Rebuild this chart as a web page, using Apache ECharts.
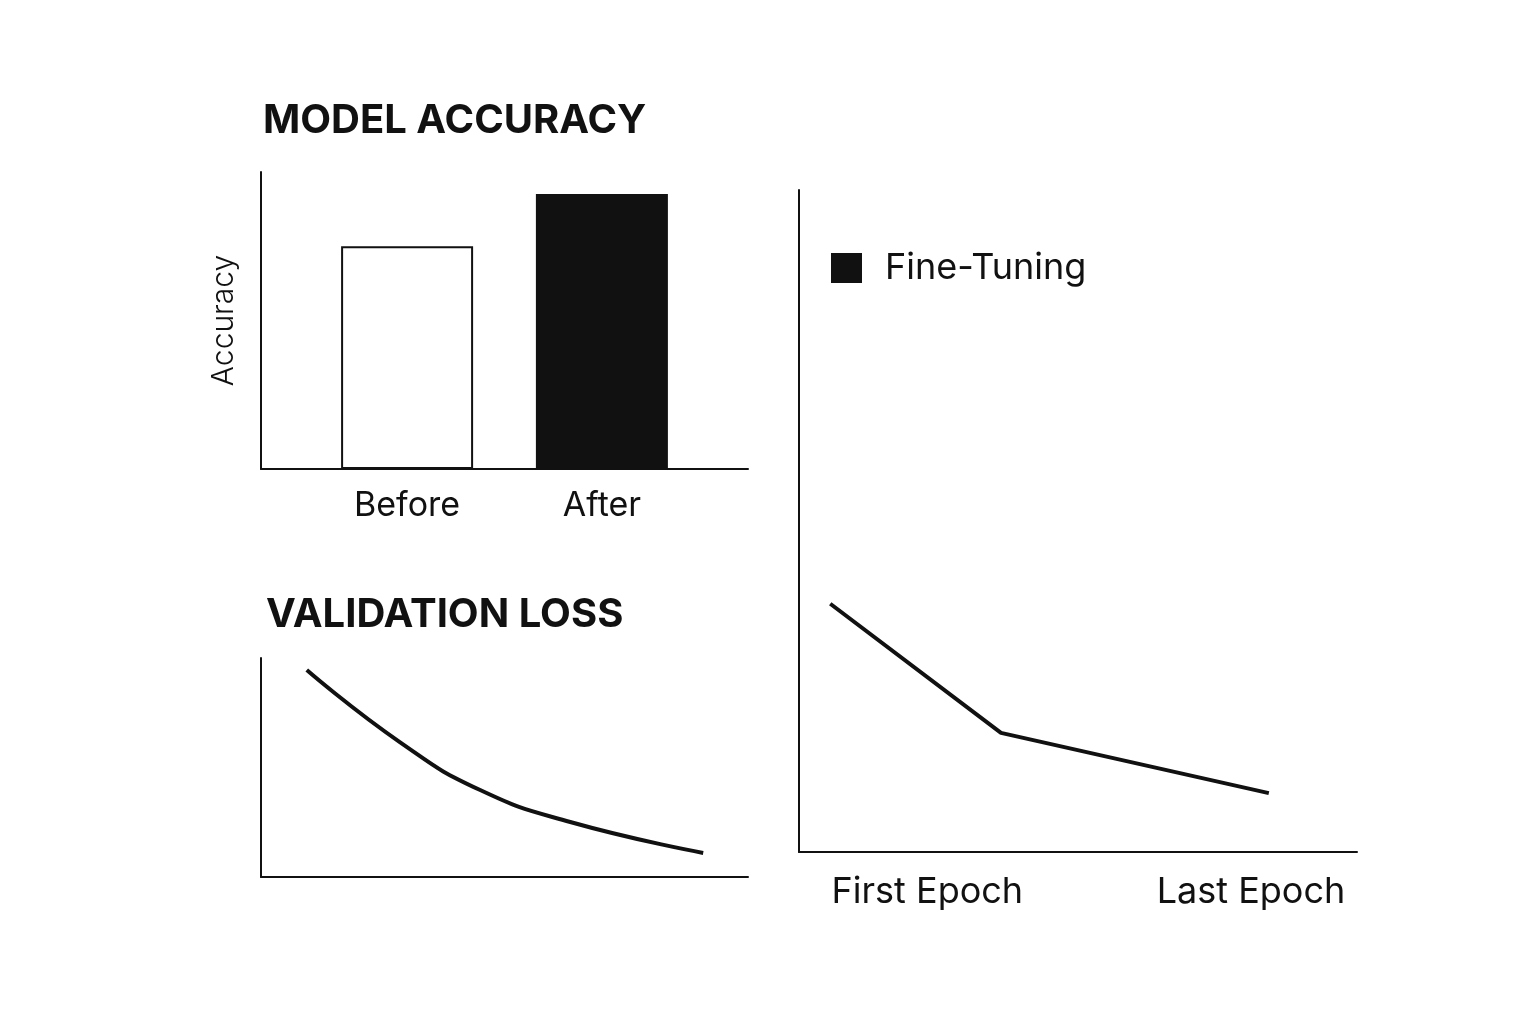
<!DOCTYPE html>
<html><head><meta charset="utf-8">
<script src="https://cdn.jsdelivr.net/npm/echarts@6/dist/echarts.min.js"></script>
<style>html,body{margin:0;background:#fff}#c{width:1536px;height:1024px}</style>
</head><body><div id="c"></div>
<script>
const barLabels = ['Before','After'];
const barPos = [3, 7];
const accuracy = [75, 92.6];
const lossX = [0.94, 2.85, 4.5, 6.35, 9.08];
const lossY = [9.45, 6.16, 3.97, 2.51, 1.10];
const ftX = [0.56, 3.62, 8.42];
const ftY = [3.75, 1.80, 0.89];
const epochLabels = ['First Epoch','Last Epoch'];
const epochPos = [2.3, 8.1];

const F = 'Inter, "Noto Sans", sans-serif';
const axisLine = {show:true, lineStyle:{color:'#111', width:2}};
const chart = echarts.init(document.getElementById('c'));
chart.setOption({
  animation:false,
  textStyle:{fontFamily:F},
  title:[
    {text:'MODEL ACCURACY', left:258, top:96, textStyle:{fontSize:40, fontWeight:'bold', color:'#111', fontFamily:F}},
    {text:'VALIDATION LOSS', left:261, top:590, textStyle:{fontSize:40, fontWeight:'bold', color:'#111', fontFamily:F}}
  ],
  legend:{data:[{name:'Fine-Tuning', icon:'rect', itemStyle:{color:'#111'}}], left:826, top:245, itemWidth:31, itemHeight:30, itemGap:30,
    textStyle:{fontSize:36, color:'#111', fontFamily:F, padding:[0,0,0,18]}},
  grid:[
    {left:261, top:172, width:487, height:297},
    {left:261, top:658, width:487, height:219},
    {left:799, top:190, width:558, height:662}
  ],
  xAxis:[
    {gridIndex:0, type:'value', min:0, max:10, interval:1, axisLine, axisTick:{show:false}, splitLine:{show:false},
     axisLabel:{fontSize:34, color:'#111', margin:20, formatter:v=>{const i=barPos.indexOf(Math.round(v));return i>=0&&Math.abs(v-barPos[i])<1e-6?barLabels[i]:'';}}},
    {gridIndex:1, type:'value', min:0, max:10, axisLine, axisTick:{show:false}, splitLine:{show:false}, axisLabel:{show:false}},
    {gridIndex:2, type:'value', min:0, max:10, interval:0.1, axisLine, axisTick:{show:false}, splitLine:{show:false},
     axisLabel:{fontSize:36, color:'#111', margin:22, formatter:v=>{const r=Math.round(v*10);for(let i=0;i<epochPos.length;i++){if(Math.round(epochPos[i]*10)===r)return epochLabels[i];}return '';}}}
  ],
  yAxis:[
    {gridIndex:0, type:'value', min:0, max:100, axisLine, axisTick:{show:false}, splitLine:{show:false}, axisLabel:{show:false},
     name:'Accuracy', nameLocation:'middle', nameGap:22, nameTextStyle:{fontSize:30, color:'#111', fontWeight:300, fontFamily:F}},
    {gridIndex:1, type:'value', min:0, max:10, axisLine, axisTick:{show:false}, splitLine:{show:false}, axisLabel:{show:false}},
    {gridIndex:2, type:'value', min:0, max:10, axisLine, axisTick:{show:false}, splitLine:{show:false}, axisLabel:{show:false}}
  ],
  series:[
    {type:'bar', xAxisIndex:0, yAxisIndex:0, barWidth:132,
     data:accuracy.map((v,i)=>({value:[barPos[i],v], itemStyle: i===0?{color:'#fff',borderColor:'#111',borderWidth:2}:{color:'#111'}}))},
    {type:'line', xAxisIndex:1, yAxisIndex:1, smooth:true, symbol:'none', lineStyle:{color:'#111', width:4},
     data:lossX.map((x,i)=>[x,lossY[i]])},
    {name:'Fine-Tuning', type:'line', xAxisIndex:2, yAxisIndex:2, symbol:'none', lineStyle:{color:'#111', width:4},
     data:ftX.map((x,i)=>[x,ftY[i]])}
  ]
});
</script></body></html>
